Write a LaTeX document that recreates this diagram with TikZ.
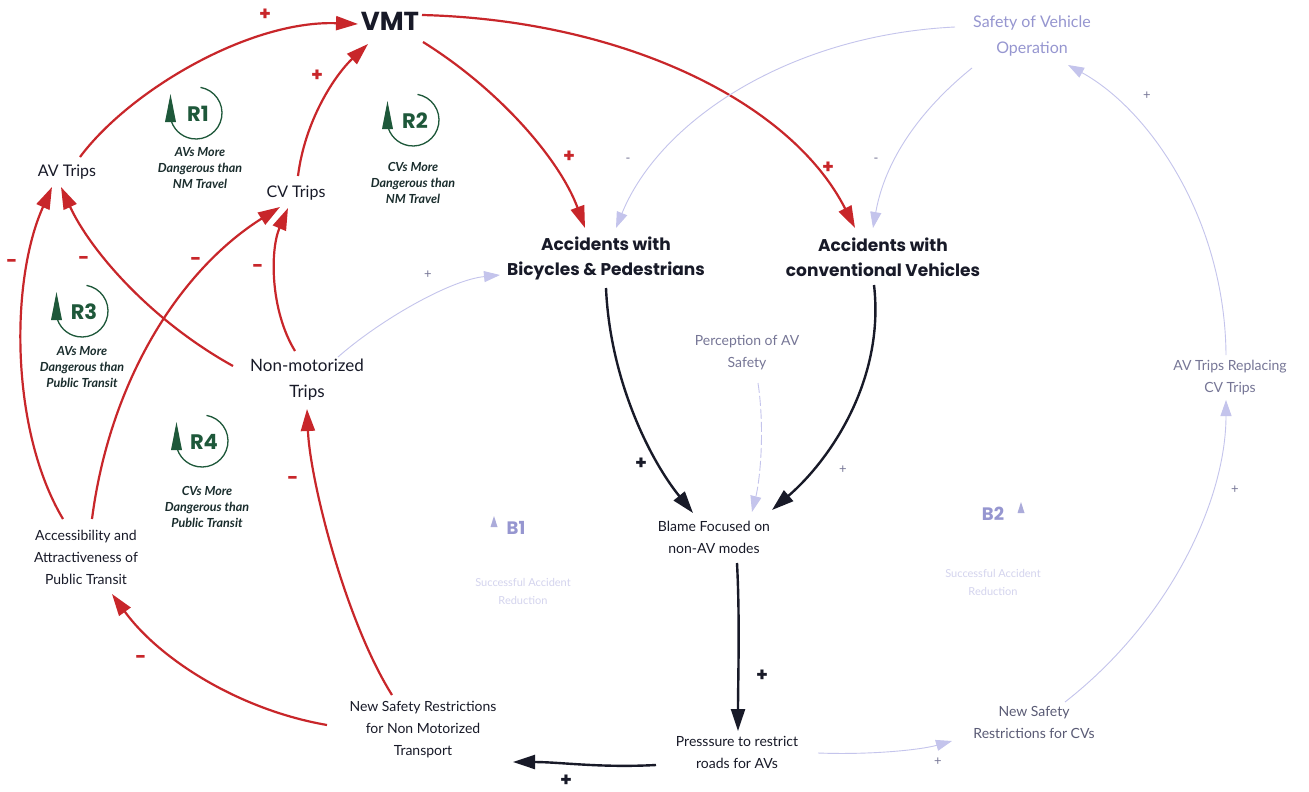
\documentclass[tikz,border=0pt]{standalone}
\usepackage{fontspec}
\setmainfont{Lato}
\newfontfamily\headfont{Poppins}
\usetikzlibrary{arrows.meta}

\definecolor{cldred}{RGB}{200,38,42}
\definecolor{cldink}{RGB}{24,26,40}
\definecolor{cldgreen}{RGB}{30,88,58}
\definecolor{cldfaint}{RGB}{196,196,236}
\definecolor{cldlav}{RGB}{150,150,208}
\definecolor{cldgrey}{RGB}{118,118,150}
\definecolor{cldpale}{RGB}{212,212,238}

\tikzset{
  var/.style={align=center, inner sep=0pt, text=cldink,
    font=\fontsize{14}{22}\selectfont},
  bigvar/.style={var, font=\fontsize{17}{26}\selectfont},
  headvar/.style={align=center, inner sep=0pt, text=cldink,
    font=\headfont\bfseries\fontsize{17}{25}\selectfont},
  fadedvar/.style={var, text=cldgrey},
  redlink/.style={draw=cldred, line width=2.2pt,
    -{Triangle[length=22pt,width=14pt]}, cldred},
  inklink/.style={draw=cldink, line width=2.4pt,
    -{Triangle[length=22pt,width=14pt]}, cldink},
  paleink/.style={draw=cldfaint, line width=0.9pt,
    -{Triangle[length=16pt,width=11pt]}, cldfaint},
  pol/.style={inner sep=0pt, font=\headfont\bfseries\fontsize{19}{19}\selectfont},
  redpol/.style={pol, text=cldred},
  inkpol/.style={pol, text=cldink},
  palepol/.style={pol, font=\fontsize{13}{13}\selectfont, text=cldgrey},
  looptext/.style={align=center, inner sep=0pt, text=cldink!70!cldgreen,
    font=\bfseries\itshape\fontsize{12.5}{16}\selectfont},
  loopsym/.pic={
    \draw[cldgreen, line width=1.3pt] (0,0) ++(-80:26) arc[start angle=-80, end angle=170, radius=26];
    \fill[cldgreen] (-31,9) -- (-20,9) -- (-25.5,-19) -- cycle;
    \node[inner sep=0pt, text=cldgreen, font=\headfont\bfseries\fontsize{21}{21}\selectfont] (-lbl) at (2,1) {#1};
  },
  balsym/.pic={
    \fill[cldlav!80] (-3.5,4) -- (3.5,4) -- (0,-7) -- cycle;
  }
}

\begin{document}
\begin{tikzpicture}[x=1pt,y=-1pt]
\useasboundingbox (0,0) rectangle (1309,792);
\fill[white] (0,0) rectangle (1309,792);

% ---- variables ----
\node[headvar, font=\headfont\bfseries\fontsize{26}{26}\selectfont] (vmt) at (390,21) {VMT};
\node[var, font=\fontsize{16}{20}\selectfont] (av) at (67,172) {AV Trips};
\node[var, font=\fontsize{16}{20}\selectfont] (cv) at (296,193) {CV Trips};
\node[bigvar] (nmt) at (307,380) {Non-motorized\\Trips};
\node[var] (acc) at (86,557) {Accessibility and\\Attractiveness of\\Public Transit};
\node[var] (nsnmt) at (423,730) {New Safety Restrictions\\for Non Motorized\\Transport};
\node[var] (press) at (737,752) {Presssure to restrict\\roads for AVs};
\node[var, text=cldgrey!70!cldink] (nscv) at (1034,722) {New Safety\\Restrictions for CVs};
\node[var] (blame) at (714,537) {Blame Focused on\\non-AV modes};
\node[headvar] (accb) at (606,258) {Accidents with\\Bicycles \& Pedestrians};
\node[headvar] (accc) at (883,257) {Accidents with\\conventional Vehicles};
\node[fadedvar] (perc) at (747,353) {Perception of AV\\Safety};
\node[var, text=cldlav, font=\fontsize{16}{26}\selectfont] (svo) at (1032,36) {Safety of Vehicle\\Operation};
\node[fadedvar] (avr) at (1230,378) {AV Trips Replacing\\CV Trips};

% ---- reinforcing loop markers ----
\pic (r1) at (196,113) {loopsym={R1}};
\node[looptext] (r1txt) at (200,168) {AVs More\\Dangerous than\\NM Travel};
\pic (r2) at (413,120) {loopsym={R2}};
\node[looptext] (r2txt) at (413,183) {CVs More\\Dangerous than\\NM Travel};
\pic (r3) at (82,311) {loopsym={R3}};
\node[looptext] (r3txt) at (82,367) {AVs More\\Dangerous than\\Public Transit};
\pic (r4) at (202,441) {loopsym={R4}};
\node[looptext] (r4txt) at (207,507) {CVs More\\Dangerous than\\Public Transit};

% ---- balancing loop markers ----
\pic at (494,523) {balsym};
\node[inner sep=0pt, text=cldlav, font=\headfont\bfseries\fontsize{18}{18}\selectfont] (b1) at (516,528) {B1};
\node[var, text=cldpale, font=\fontsize{11}{18}\selectfont] (b1txt) at (523,591) {Successful Accident\\Reduction};
\pic at (1021,509) {balsym};
\node[inner sep=0pt, text=cldlav, font=\headfont\bfseries\fontsize{18}{18}\selectfont] (b2) at (993,514) {B2};
\node[var, text=cldpale, font=\fontsize{11}{18}\selectfont] (b2txt) at (993,582) {Successful Accident\\Reduction};

% ---- red links ----
\draw[redlink] ([shift={(13,-15)}]av.center) .. controls (130,90) and (250,20) .. ([shift={(-32,3)}]vmt.center);
\draw[redlink] ([shift={(2,-17)}]cv.center) .. controls (305,120) and (335,75) .. ([shift={(-22,23)}]vmt.center);
\draw[redlink] ([shift={(33,21)}]vmt.center) .. controls (500,90) and (560,160) .. ([shift={(-21,-30)}]accb.center);
\draw[redlink] ([shift={(32,-6)}]vmt.center) .. controls (620,20) and (790,100) .. ([shift={(-28,-29)}]accc.center);
\draw[redlink] ([shift={(-74,-14)}]nmt.center) .. controls (150,320) and (90,250) .. ([shift={(-6,15)}]av.center);
\draw[redlink] ([shift={(-12,-29)}]nmt.center) .. controls (270,310) and (270,250) .. ([shift={(-8,15)}]cv.center);
\draw[redlink] ([shift={(-23,-38)}]acc.center) .. controls (10,430) and (10,280) .. ([shift={(-15,15)}]av.center);
\draw[redlink] ([shift={(6,-38)}]acc.center) .. controls (110,380) and (180,270) .. ([shift={(-16,14)}]cv.center);
\draw[redlink] ([shift={(-31,-35)}]nsnmt.center) .. controls (345,620) and (310,480) .. ([shift={(0,29)}]nmt.center);
\draw[redlink] ([shift={(-96,-5)}]nsnmt.center) .. controls (240,710) and (160,660) .. ([shift={(26,37)}]acc.center);

% ---- dark links ----
\draw[inklink] ([shift={(0,30)}]accb.center) .. controls (610,380) and (650,460) .. ([shift={(-21,-24)}]blame.center);
\draw[inklink] ([shift={(-9,28)}]accc.center) .. controls (885,380) and (830,460) .. ([shift={(58,-27)}]blame.center);
\draw[inklink] ([shift={(23,26)}]blame.center) .. controls (740,620) and (738,680) .. ([shift={(1,-21)}]press.center);
\draw[inklink] ([shift={(-81,13)}]press.center) .. controls (600,768) and (560,762) .. ([shift={(90,32)}]nsnmt.center);

% ---- faded links ----
\draw[paleink] ([shift={(31,-23)}]nmt.center) .. controls (380,320) and (450,280) .. ([shift={(-106,17)}]accb.center);
\draw[paleink, dashed, dash pattern=on 10pt off 3pt] ([shift={(11,30)}]perc.center) .. controls (765,430) and (760,480) .. ([shift={(38,-25)}]blame.center);
\draw[paleink] ([shift={(-77,-9)}]svo.center) .. controls (790,35) and (660,120) .. ([shift={(10,-30)}]accb.center);
\draw[paleink] ([shift={(-60,32)}]svo.center) .. controls (920,110) and (885,160) .. ([shift={(-10,-29)}]accc.center);
\draw[paleink] ([shift={(-4,-23)}]avr.center) .. controls (1225,220) and (1150,110) .. ([shift={(36,29)}]svo.center);
\draw[paleink] ([shift={(31,-20)}]nscv.center) .. controls (1170,620) and (1226,500) .. ([shift={(-4,22)}]avr.center);
\draw[paleink] ([shift={(81,1)}]press.center) .. controls (870,755) and (920,750) .. ([shift={(-82,19)}]nscv.center);

% ---- polarities ----
\node[redpol] (p1) at (265,15) {+};
\node[redpol] (p2) at (317,76) {+};
\node[redpol] (p3) at (569,157) {+};
\node[redpol] (p4) at (828,168) {+};
\node[redpol] (m1) at (12,263) {-};
\node[redpol] (m2) at (84,260) {-};
\node[redpol] (m3) at (196,261) {-};
\node[redpol] (m4) at (258,268) {-};
\node[redpol] (m5) at (293,480) {-};
\node[redpol] (m6) at (141,659) {-};
\node[inkpol] (k1) at (641,464) {+};
\node[inkpol] (k2) at (762,676) {+};
\node[inkpol] (k3) at (566,781) {+};
\node[palepol] (f1) at (843,470) {+};
\node[palepol] (f2) at (428,275) {+};
\node[palepol] (f3) at (938,762) {+};
\node[palepol] (f4) at (1235,490) {+};
\node[palepol] (f5) at (1147,96) {+};
\node[palepol] (f6) at (628,160) {-};
\node[palepol] (f7) at (876,160) {-};
\end{tikzpicture}
\end{document}
